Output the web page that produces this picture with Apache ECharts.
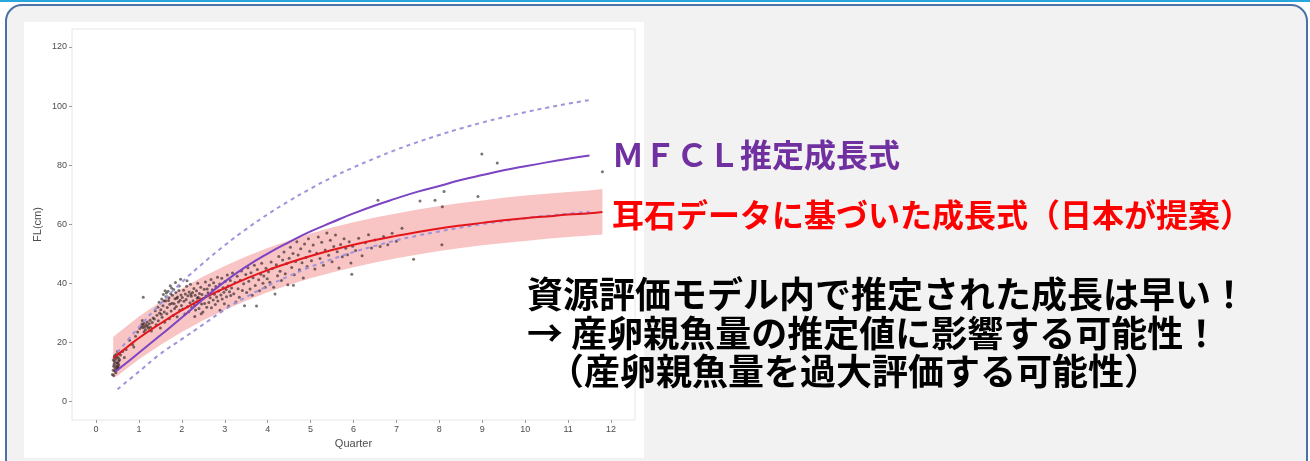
<!DOCTYPE html>
<html>
<head>
<meta charset="utf-8">
<script src="https://cdn.jsdelivr.net/npm/echarts@6/dist/echarts.min.js"></script>
<style>
  html, body { margin: 0; padding: 0; background: #ffffff; }
  #chart { width: 1310px; height: 461px; }
</style>
</head>
<body>
<div id="chart"></div>
<script>
// Axis tick values
const quarterTicks = [0, 1, 2, 3, 4, 5, 6, 7, 8, 9, 10, 11, 12];
const flTicks = [0, 20, 40, 60, 80, 100, 120];

// Observed otolith age / fork length samples: [quarter, FL(cm)]
const otolithSamples = [
  [0.38,9.0],[0.40,10.5],[0.41,11.8],[0.42,12.6],[0.43,13.4],[0.44,10.2],[0.45,11.1],[0.46,14.2],
  [0.47,12.0],[0.48,13.0],[0.49,15.1],[0.50,11.6],[0.51,12.8],[0.52,14.6],[0.53,13.6],[0.54,16.2],
  [0.40,13.9],[0.43,15.4],[0.46,9.6],[0.49,10.8],[0.52,11.4],[0.55,14.0],[0.57,15.6],[0.44,14.9],
  [0.50,16.8],[0.41,8.7],[0.47,15.8],[0.53,12.2],
  [0.62,16.8],[0.70,17.5],[0.78,20.6],[0.85,19.2],[0.92,22.0],[0.97,23.4],[0.88,18.3],[0.66,14.8],
  [1.02,24.6],[1.05,25.3],[1.07,26.1],[1.09,24.9],[1.10,25.7],[1.12,26.5],[1.14,25.1],[1.15,24.2],
  [1.17,25.9],[1.19,26.8],[1.20,25.4],[1.22,24.7],[1.24,26.2],[1.26,27.4],[1.27,25.0],[1.29,23.8],
  [1.31,26.6],[1.33,28.2],[1.12,23.5],[1.08,27.3],[1.10,35.2],
  [1.36,27.8],[1.38,30.6],[1.40,25.9],[1.42,29.1],[1.44,31.8],[1.45,27.2],[1.47,33.5],[1.48,29.9],
  [1.50,24.8],[1.51,31.0],[1.53,34.6],[1.54,28.4],[1.56,32.3],[1.57,36.1],[1.59,30.2],[1.60,26.7],
  [1.62,33.9],[1.63,35.4],[1.65,29.6],[1.66,31.7],[1.68,37.2],[1.69,34.1],[1.71,27.9],[1.72,32.8],
  [1.74,36.4],[1.75,30.5],[1.77,33.2],[1.78,35.9],[1.80,29.0],[1.81,37.8],[1.83,31.4],[1.84,34.7],
  [1.86,36.8],[1.87,32.1],[1.89,28.6],[1.90,35.3],[1.92,33.6],[1.93,37.5],[1.95,30.8],[1.96,34.2],
  [1.98,36.0],[1.99,32.4],[1.58,34.0],[1.70,35.0],[1.82,33.0],[1.64,36.6],[1.76,38.3],[1.88,34.9],
  [1.52,29.4],[1.94,39.0],[1.85,40.2],[1.73,39.1],[1.97,41.3],[1.61,37.4],
  [2.01,35.1],[2.02,31.2],[2.04,37.6],[2.05,33.8],[2.07,29.5],[2.08,36.3],[2.10,34.4],[2.11,38.9],
  [2.13,32.0],[2.14,35.7],[2.16,30.3],[2.17,37.0],[2.19,33.3],[2.20,39.6],[2.22,35.5],[2.23,31.7],
  [2.25,36.8],[2.26,34.0],[2.28,38.2],[2.29,32.6],[2.31,35.9],[2.32,30.9],[2.34,37.4],[2.35,33.7],
  [2.37,39.9],[2.38,35.2],[2.40,31.4],[2.41,36.5],[2.43,34.6],[2.44,38.6],[2.46,32.9],[2.47,36.1],
  [2.49,30.2],[2.50,34.8],[2.52,37.9],[2.53,33.1],[2.55,40.4],[2.56,35.6],[2.58,31.8],[2.59,38.0],
  [2.12,40.8],[2.30,28.7],[2.45,29.6],[2.21,36.2],[2.36,34.9],
  [2.61,36.7],[2.63,33.4],[2.64,39.3],[2.66,35.0],[2.68,41.2],[2.69,31.6],[2.71,37.7],[2.73,34.3],
  [2.74,40.1],[2.76,36.2],[2.78,32.7],[2.79,38.8],[2.81,35.3],[2.83,42.0],[2.84,33.9],[2.86,37.3],
  [2.88,39.7],[2.89,30.8],[2.91,36.0],[2.93,41.6],[2.94,34.6],[2.96,38.4],[2.98,36.9],[2.99,33.0],
  [3.01,40.5],[3.03,37.8],[3.04,35.4],[3.06,42.7],[3.08,39.0],[3.09,32.2],[3.11,37.1],[3.13,40.9],
  [3.14,35.8],[3.16,38.3],[3.18,43.4],
  [3.21,36.4],[3.24,40.2],[3.26,33.6],[3.29,42.3],[3.31,38.1],[3.34,35.2],[3.36,41.0],[3.39,44.1],
  [3.41,37.5],[3.44,39.8],[3.46,32.3],[3.49,42.9],[3.51,36.8],[3.54,45.2],[3.56,40.6],[3.59,38.0],
  [3.61,43.5],[3.64,35.9],[3.66,41.8],[3.69,46.0],[3.71,39.2],[3.74,32.2],[3.76,44.6],[3.79,41.1],
  [3.81,37.4],[3.84,43.0],[3.86,46.7],[3.89,39.9],[3.91,42.4],[3.94,38.6],[3.96,45.0],[3.99,41.5],
  [4.02,43.8],[4.05,40.3],[4.08,47.1],[4.11,44.9],[4.14,38.6],[4.17,36.3],[4.20,46.2],[4.23,42.5],
  [4.26,49.0],[4.29,44.0],[4.32,40.9],[4.35,47.8],[4.38,50.5],[4.41,43.2],[4.44,46.6],[4.47,39.4],
  [4.50,48.4],[4.53,52.1],[4.56,45.3],[4.59,50.0],[4.60,39.3],[4.62,42.8],[4.65,47.3],[4.68,54.0],
  [4.71,49.5],[4.74,44.5],[4.77,51.6],[4.80,46.9],[4.83,41.7],[4.86,53.2],[4.89,48.7],[4.92,45.6],
  [4.95,55.0],[4.98,50.8],
  [5.02,47.6],[5.06,52.9],[5.10,44.8],[5.14,50.1],[5.18,55.6],[5.22,48.3],[5.26,53.8],[5.30,46.0],
  [5.34,51.2],[5.38,57.0],[5.42,49.4],[5.46,54.5],[5.50,47.2],[5.54,52.4],[5.58,56.3],[5.62,50.6],
  [5.66,45.1],[5.70,53.1],[5.74,48.9],[5.78,55.0],[5.82,51.8],[5.86,49.6],[5.90,54.0],[5.94,46.8],
  [5.98,52.5],[5.96,43.0],
  [6.05,51.0],[6.12,55.2],[6.20,49.3],[6.28,53.7],[6.35,56.4],[6.42,51.9],[6.50,54.6],[6.57,68.1],
  [6.62,52.4],[6.70,55.8],[6.80,53.0],[6.90,56.9],[7.13,58.6],[7.00,54.2],
  [7.40,48.1],[7.55,67.8],[7.90,68.1],[8.06,53.0],[8.07,65.9],[8.11,71.0],[8.90,69.3],[8.99,83.7],
  [9.35,80.7],[11.80,77.7]
];

// Otolith-based growth curve with its confidence band
const bandQuarter = [0.4, 0.5, 0.75, 1, 1.5, 2, 2.5, 3, 3.5, 4, 4.5, 5, 5.5, 6, 6.5, 7, 7.5, 8, 8.5, 9, 9.5, 10, 10.5, 11, 11.5, 11.8];
const otolithFitFL = [14.5, 15.7, 18.6, 21.4, 26.3, 30.8, 34.8, 38.3, 41.5, 44.4, 46.9, 49.2, 51.2, 53.0, 54.6, 56.0, 57.3, 58.5, 59.5, 60.4, 61.3, 62.0, 62.6, 63.2, 63.7, 64.1];
const otolithUpperFL = [21.7, 22.9, 25.8, 28.7, 33.6, 38.2, 42.2, 45.8, 49.0, 51.9, 54.4, 56.8, 58.8, 60.6, 62.2, 63.6, 64.9, 66.1, 67.1, 68.0, 68.9, 69.7, 70.3, 70.9, 71.4, 71.9];
const otolithLowerFL = [7.8, 8.6, 11.4, 14.2, 19.0, 23.4, 27.4, 30.9, 34.0, 36.9, 39.4, 41.6, 43.6, 45.4, 47.0, 48.4, 49.7, 50.9, 51.9, 52.8, 53.6, 54.3, 55.0, 55.6, 56.1, 56.5];

// MFCL estimated growth curve and its bounds
const mfclQuarter = [0.45, 0.75, 1, 1.5, 2, 2.5, 3, 3.5, 4, 4.5, 5, 5.5, 6, 6.5, 7, 7.5, 8, 8.5, 9, 9.5, 10, 10.5, 11, 11.5];
const mfclFL = [10.0, 13.4, 16.4, 22.3, 28.3, 34.6, 40.5, 45.6, 50.0, 53.9, 57.5, 60.6, 63.6, 66.3, 68.7, 71.0, 72.9, 74.9, 76.6, 78.2, 79.6, 80.9, 82.1, 83.2];
const mfclBoundQuarter = [0.5, 1, 1.5, 2, 2.5, 3, 3.5, 4, 4.5, 5, 5.5, 6, 6.5, 7, 7.5, 8, 8.5, 9, 9.5, 10, 10.5, 11, 11.5];
const mfclUpperFL = [16.5, 25.1, 33.0, 40.3, 46.8, 52.8, 58.3, 63.3, 67.8, 72.0, 75.8, 79.2, 82.3, 85.2, 87.8, 90.2, 92.4, 94.4, 96.2, 97.9, 99.4, 100.8, 102.0];
const mfclLowerFL = [4.0, 10.0, 16.0, 21.0, 26.0, 31.0, 35.3, 39.0, 42.4, 45.5, 48.1, 50.5, 52.6, 54.5, 56.1, 57.5, 58.8, 60.0, 61.0, 62.0, 62.8, 63.5, 64.2];

const zip = (xs, ys) => xs.map((x, i) => [x, ys[i]]);

const chart = echarts.init(document.getElementById('chart'), null, { renderer: 'canvas' });

const axisText = { color: '#4d4d4d', fontFamily: 'Liberation Sans, Arial, sans-serif' };
const jpFont = '"Noto Sans CJK JP", sans-serif';

chart.setOption({
  animation: false,
  backgroundColor: '#ffffff',
  grid: {
    left: 72, right: 675, top: 29, bottom: 41,
    show: true, backgroundColor: '#ffffff', borderColor: '#e6e6e6', borderWidth: 1
  },
  xAxis: {
    type: 'value', min: -0.56, max: 12.56,
    name: 'Quarter', nameLocation: 'middle', nameGap: 17,
    nameTextStyle: Object.assign({ fontSize: 11 }, axisText),
    axisLine: { show: false, onZero: false },
    axisTick: { show: true, length: 3, lineStyle: { color: '#9a9a9a' }, customValues: quarterTicks },
    axisLabel: Object.assign({ fontSize: 9, margin: 5, customValues: quarterTicks }, axisText),
    splitLine: { show: false }
  },
  yAxis: {
    type: 'value', min: -6.4, max: 126.1,
    name: 'FL(cm)', nameLocation: 'middle', nameGap: 29, nameRotate: 90,
    nameTextStyle: Object.assign({ fontSize: 11 }, axisText),
    axisLine: { show: false, onZero: false },
    axisTick: { show: true, length: 3, lineStyle: { color: '#9a9a9a' }, customValues: flTicks },
    axisLabel: Object.assign({ fontSize: 9, margin: 5, customValues: flTicks }, axisText),
    splitLine: { show: false }
  },
  series: [
    {
      name: 'otolith band',
      type: 'custom',
      data: [[0, 0]],
      z: 1,
      silent: true,
      renderItem: function (params, api) {
        const pts = [];
        for (let i = 0; i < bandQuarter.length; i++) pts.push(api.coord([bandQuarter[i], otolithUpperFL[i]]));
        for (let i = bandQuarter.length - 1; i >= 0; i--) pts.push(api.coord([bandQuarter[i], otolithLowerFL[i]]));
        return { type: 'polygon', shape: { points: pts }, style: { fill: '#f8c4c4' } };
      }
    },
    {
      name: 'samples',
      type: 'scatter',
      data: otolithSamples,
      symbolSize: 3,
      z: 2,
      itemStyle: { color: 'rgba(35,20,20,0.75)' }
    },
    {
      name: 'MFCL upper',
      type: 'line', smooth: true, showSymbol: false, z: 3,
      data: zip(mfclBoundQuarter, mfclUpperFL),
      lineStyle: { color: '#a093dc', width: 2, type: [4, 4] }
    },
    {
      name: 'MFCL lower',
      type: 'line', smooth: true, showSymbol: false, z: 3,
      data: zip(mfclBoundQuarter, mfclLowerFL),
      lineStyle: { color: '#a093dc', width: 2, type: [4, 4] }
    },
    {
      name: 'otolith fit',
      type: 'line', smooth: true, showSymbol: false, z: 4,
      data: zip(bandQuarter, otolithFitFL),
      lineStyle: { color: '#e3161c', width: 2 }
    },
    {
      name: 'MFCL',
      type: 'line', smooth: true, showSymbol: false, z: 4,
      data: zip(mfclQuarter, mfclFL),
      lineStyle: { color: '#7c44c2', width: 2 }
    }
  ],
  graphic: [
    { type: 'rect', z: -20, silent: true, shape: { x: 0, y: 0, width: 1310, height: 2 }, style: { fill: '#2aa6df' } },
    { type: 'rect', z: -19, silent: true, shape: { x: 6, y: 5, width: 1301, height: 490, r: 16 },
      style: { fill: '#f2f2f2', stroke: '#4a72a6', lineWidth: 2 } },
    { type: 'rect', z: -18, silent: true, shape: { x: 24, y: 22, width: 620, height: 436 }, style: { fill: '#ffffff' } },
    { type: 'text', z: 100, left: 612, top: 139,
      style: { text: 'ＭＦＣＬ推定成長式', font: 'bold 32px ' + jpFont, fill: '#7030a0' } },
    { type: 'text', z: 100, left: 612, top: 199,
      style: { text: '耳石データに基づいた成長式（日本が提案）', font: 'bold 32px ' + jpFont, fill: '#ff0000' } },
    { type: 'text', z: 100, left: 527, top: 276,
      style: { text: '資源評価モデル内で推定された成長は早い！', font: 'bold 36px ' + jpFont, fill: '#000000' } },
    { type: 'text', z: 100, left: 527, top: 315,
      style: { text: '→ 産卵親魚量の推定値に影響する可能性！', font: 'bold 36px ' + jpFont, fill: '#000000' } },
    { type: 'text', z: 100, left: 548, top: 353,
      style: { text: '（産卵親魚量を過大評価する可能性）', font: 'bold 36px ' + jpFont, fill: '#000000' } }
  ]
});
</script>
</body>
</html>
